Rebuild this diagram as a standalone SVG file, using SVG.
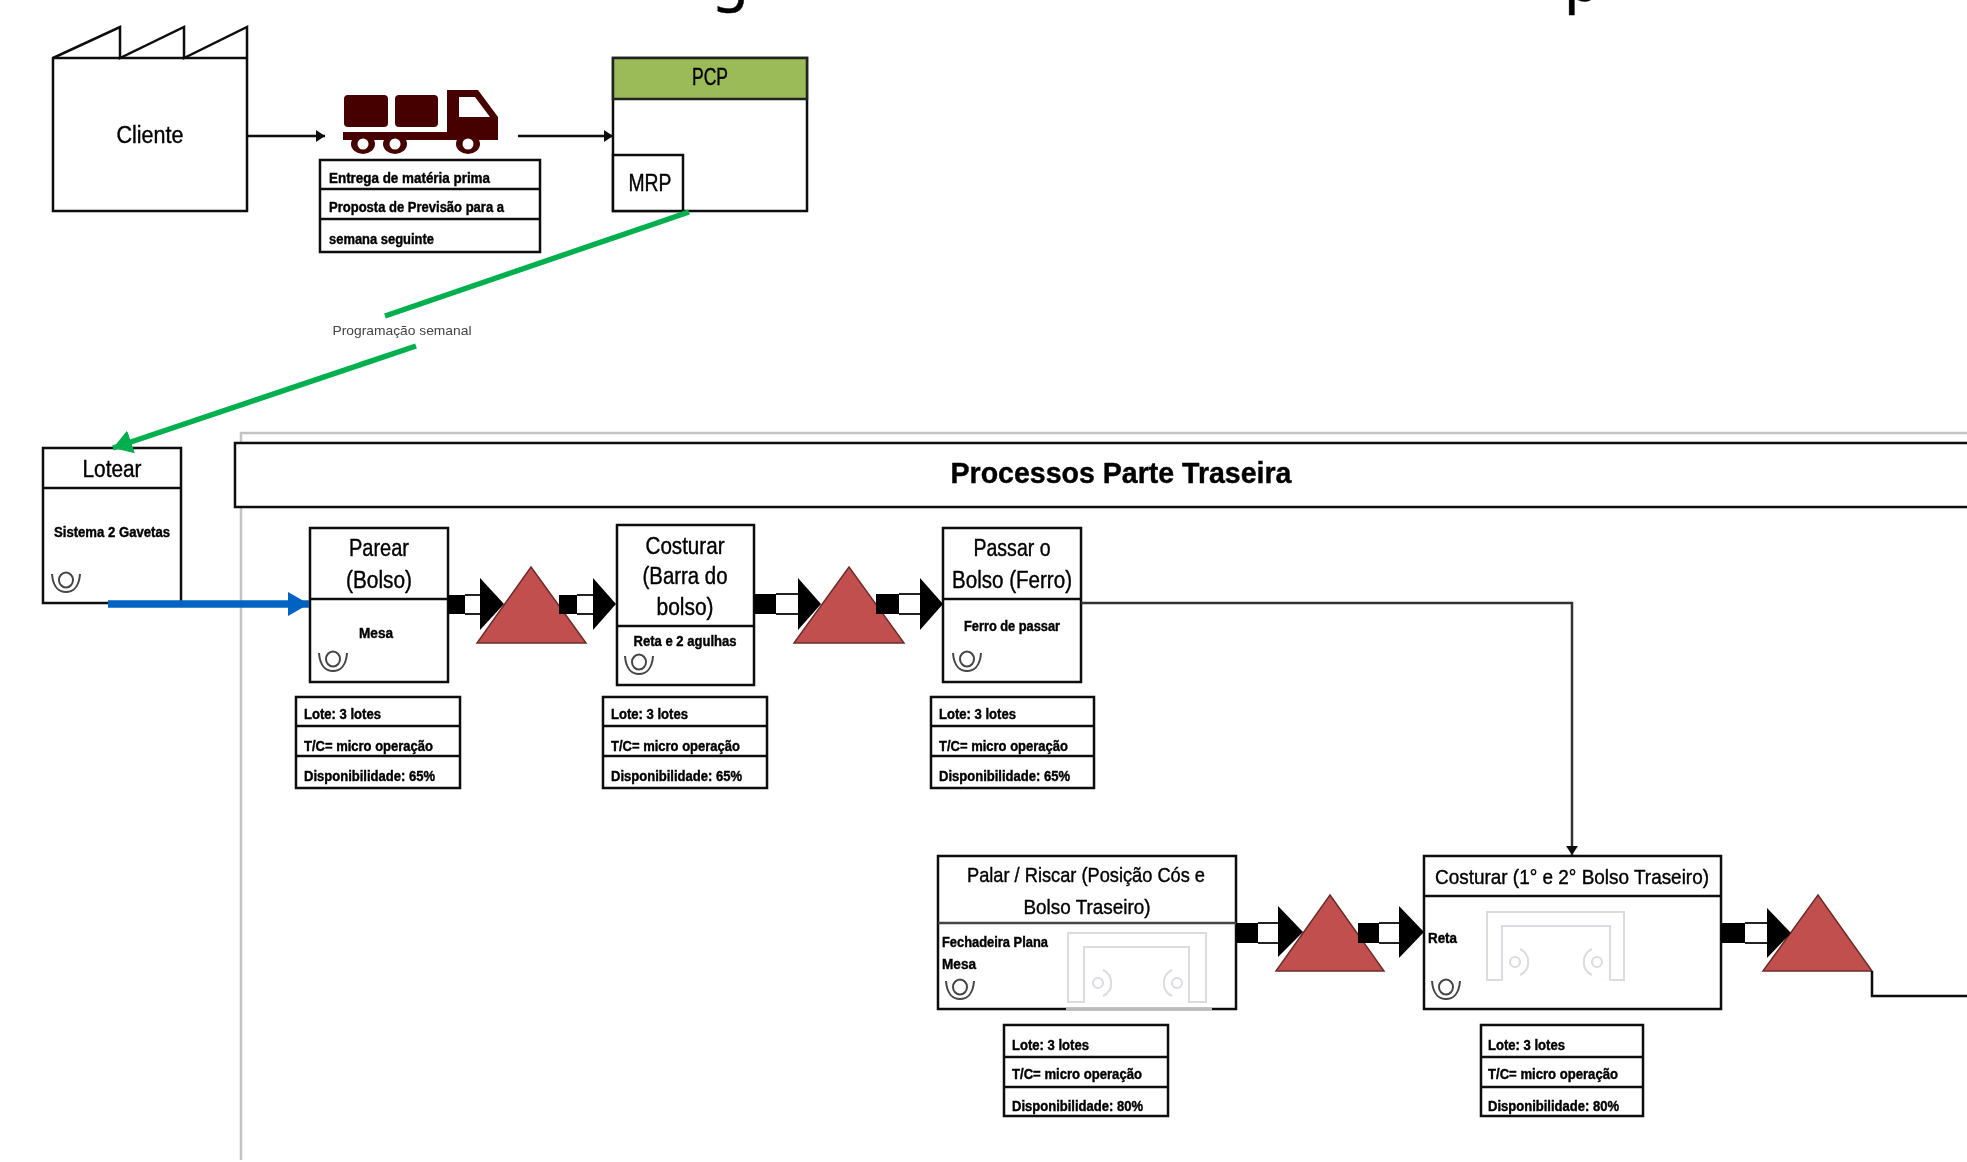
<svg xmlns="http://www.w3.org/2000/svg" width="1967" height="1162" viewBox="0 0 1967 1162">
<style>
text{font-family:"Liberation Sans",Arial,sans-serif;fill:#000;stroke:#000;stroke-width:.4}
.t{font-size:23px;text-anchor:middle}
.s{font-size:14px;font-weight:700}
.sm{font-size:14px;font-weight:700;text-anchor:middle}
.b{fill:#fff;stroke:#111;stroke-width:2.5}
.l{fill:none;stroke:#111;stroke-width:2.5}
.inv{fill:#c0504d;stroke:#6e2c2a;stroke-width:1.5}
.ink{fill:#000}
.mach{fill:none;stroke:#dcdbe3;stroke-width:2}
.op{fill:none;stroke:#444;stroke-width:2}
.c{fill:none;stroke:#111;stroke-width:2.5}
.g{fill:none;stroke:#00b050;stroke-width:5.5}
.pl{fill:none;stroke:#222;stroke-width:2.2}
</style>
<defs>
<filter id="soft" x="-2%" y="-2%" width="104%" height="104%"><feGaussianBlur stdDeviation="0.6"/></filter>
<marker id="ah" markerUnits="userSpaceOnUse" markerWidth="10" markerHeight="14" refX="9" refY="7" orient="auto"><path d="M0,1 L9,7 L0,13 Z" fill="#111"/></marker>
<marker id="ag" markerUnits="userSpaceOnUse" markerWidth="22" markerHeight="26" refX="19" refY="13" orient="auto"><path d="M0,1 L19,13 L0,25 Z" fill="#00b050"/></marker>
<marker id="ab" markerUnits="userSpaceOnUse" markerWidth="22" markerHeight="24" refX="21" refY="12" orient="auto"><path d="M0,0 L21,12 L0,24 Z" fill="#0563c1"/></marker>
<g id="oper" class="op"><ellipse cx="0" cy="-2" rx="7" ry="7.5"/><path d="M-14,-8 C-13,6 -6,10 0,10 C6,10 13,6 14,-8"/></g>
<g id="mach"><circle cx="0" cy="0" r="5" class="mach"/><path d="M5,-13 C16,-8 16,8 5,13" class="mach"/></g>
</defs>
<g filter="url(#soft)">
<g id="page-title"><text x="712" y="-1" style="font-family:'Noto Sans',sans-serif;font-size:60px">g</text><text x="1564" y="1" style="font-family:'Noto Sans',sans-serif;font-size:60px">p</text></g>
<g id="frame"><path d="M241,1160 V433 H1967" fill="none" stroke="#c4c4c4" stroke-width="2.5"/></g>
<g id="header"><rect x="235" y="443" width="1800" height="64" class="b"/><text x="1121" y="483" text-anchor="middle" textLength="341" lengthAdjust="spacingAndGlyphs" style="font-size:30px;font-weight:700">Processos Parte Traseira</text></g>
<g id="cliente"><path d="M53,58 L120,27 V58 L184,27 V58 L247,27 V58 V211 H53 Z" class="b"/><path d="M53,58 H247" class="l"/><text x="150" y="143" class="t" textLength="67" lengthAdjust="spacingAndGlyphs">Cliente</text></g>
<g id="truck" fill="#470000"><rect x="344" y="95" width="44" height="32" rx="4"/><rect x="395" y="95" width="43" height="32" rx="4"/><path d="M447,90 H478 L498,117 V133 H447 Z"/><path d="M459,97 H475 L490,117 H459 Z" fill="#fff"/><rect x="343" y="132" width="155" height="8"/><ellipse cx="363" cy="144" rx="12" ry="10"/><ellipse cx="395" cy="144" rx="12" ry="10"/><ellipse cx="468" cy="144" rx="12" ry="10"/><circle cx="363" cy="144" r="5.5" fill="#fff"/><circle cx="395" cy="144" r="5.5" fill="#fff"/><circle cx="468" cy="144" r="5.5" fill="#fff"/></g>
<g id="entrega"><rect x="320" y="160" width="220" height="92" class="b"/><path d="M320,189 H540 M320,219 H540" class="l"/><text x="329" y="183" class="s" textLength="161" lengthAdjust="spacingAndGlyphs">Entrega de matéria prima</text><text x="329" y="212" class="s" textLength="175" lengthAdjust="spacingAndGlyphs">Proposta de Previsão para a</text><text x="329" y="244" class="s" textLength="105" lengthAdjust="spacingAndGlyphs">semana seguinte</text></g>
<g id="pcp"><rect x="613" y="58" width="194" height="153" class="b"/><rect x="613" y="58" width="194" height="41" fill="#9bbb59" stroke="#222" stroke-width="2.5"/><text x="710" y="85" class="t" textLength="36" lengthAdjust="spacingAndGlyphs">PCP</text><rect x="613" y="155" width="70" height="56" class="b"/><text x="650" y="191" class="t" textLength="43" lengthAdjust="spacingAndGlyphs">MRP</text></g>
<g id="programacao"><text x="402" y="335" text-anchor="middle" textLength="139" lengthAdjust="spacingAndGlyphs" style="font-size:13px;fill:#444;stroke:none">Programação semanal</text></g>
<g id="lotear"><rect x="43" y="448" width="138" height="155" class="b"/><path d="M43,488 H181" class="l"/><text x="112" y="477" class="t" textLength="59" lengthAdjust="spacingAndGlyphs">Lotear</text><text x="112" y="537" class="sm" textLength="116" lengthAdjust="spacingAndGlyphs">Sistema 2 Gavetas</text><use href="#oper" x="66" y="582"/></g>
<g id="parear"><rect x="310" y="528" width="138" height="154" class="b"/><path d="M310,599 H448" class="l"/><text x="379" y="556" class="t" textLength="60" lengthAdjust="spacingAndGlyphs">Parear</text><text x="379" y="588" class="t" textLength="66" lengthAdjust="spacingAndGlyphs">(Bolso)</text><text x="376" y="638" class="sm" textLength="34" lengthAdjust="spacingAndGlyphs">Mesa</text><use href="#oper" x="333" y="661"/></g>
<g id="dados-parear"><rect x="296" y="697" width="164" height="91" class="b"/><path d="M296,726 H460 M296,756 H460" class="l"/><text x="304" y="719" class="s" textLength="77" lengthAdjust="spacingAndGlyphs">Lote: 3 lotes</text><text x="304" y="751" class="s" textLength="129" lengthAdjust="spacingAndGlyphs">T/C= micro operação</text><text x="304" y="781" class="s" textLength="131" lengthAdjust="spacingAndGlyphs">Disponibilidade: 65%</text></g>
<g id="costurar-barra"><rect x="617" y="525" width="137" height="160" class="b"/><path d="M617,626 H754" class="l"/><text x="685" y="554" class="t" textLength="79" lengthAdjust="spacingAndGlyphs">Costurar</text><text x="685" y="584" class="t" textLength="85" lengthAdjust="spacingAndGlyphs">(Barra do</text><text x="685" y="615" class="t" textLength="57" lengthAdjust="spacingAndGlyphs">bolso)</text><text x="685" y="646" class="sm" textLength="103" lengthAdjust="spacingAndGlyphs">Reta e 2 agulhas</text><use href="#oper" x="639" y="664"/></g>
<g id="dados-costurar-barra"><rect x="603" y="697" width="164" height="91" class="b"/><path d="M603,726 H767 M603,756 H767" class="l"/><text x="611" y="719" class="s" textLength="77" lengthAdjust="spacingAndGlyphs">Lote: 3 lotes</text><text x="611" y="751" class="s" textLength="129" lengthAdjust="spacingAndGlyphs">T/C= micro operação</text><text x="611" y="781" class="s" textLength="131" lengthAdjust="spacingAndGlyphs">Disponibilidade: 65%</text></g>
<g id="passar"><rect x="943" y="528" width="138" height="154" class="b"/><path d="M943,599 H1081" class="l"/><text x="1012" y="556" class="t" textLength="77" lengthAdjust="spacingAndGlyphs">Passar o</text><text x="1012" y="588" class="t" textLength="120" lengthAdjust="spacingAndGlyphs">Bolso (Ferro)</text><text x="1012" y="631" class="sm" textLength="96" lengthAdjust="spacingAndGlyphs">Ferro de passar</text><use href="#oper" x="967" y="661"/></g>
<g id="dados-passar"><rect x="931" y="697" width="163" height="91" class="b"/><path d="M931,726 H1094 M931,756 H1094" class="l"/><text x="939" y="719" class="s" textLength="77" lengthAdjust="spacingAndGlyphs">Lote: 3 lotes</text><text x="939" y="751" class="s" textLength="129" lengthAdjust="spacingAndGlyphs">T/C= micro operação</text><text x="939" y="781" class="s" textLength="131" lengthAdjust="spacingAndGlyphs">Disponibilidade: 65%</text></g>
<g id="palar"><rect x="938" y="856" width="298" height="153" class="b"/><path d="M938,923 H1236" stroke="#444" stroke-width="2.5"/><path d="M1068,1002 V933 H1206 V1002 H1189 V947 H1084 V1002 Z" class="mach"/><use href="#mach" x="1098" y="983"/><use href="#mach" transform="translate(1177,983) scale(-1,1)"/><path d="M1066,1009 H1212" stroke="#bbb" stroke-width="2.5"/><text x="1086" y="882" class="t" textLength="238" lengthAdjust="spacingAndGlyphs" style="font-size:21px">Palar / Riscar (Posição Cós e</text><text x="1087" y="914" class="t" textLength="127" lengthAdjust="spacingAndGlyphs" style="font-size:21px">Bolso Traseiro)</text><text x="942" y="947" class="s" textLength="106" lengthAdjust="spacingAndGlyphs">Fechadeira Plana</text><text x="942" y="969" class="s" textLength="34" lengthAdjust="spacingAndGlyphs">Mesa</text><use href="#oper" x="960" y="989"/></g>
<g id="dados-palar"><rect x="1004" y="1025" width="164" height="91" class="b"/><path d="M1004,1057 H1168 M1004,1087 H1168" class="l"/><text x="1012" y="1050" class="s" textLength="77" lengthAdjust="spacingAndGlyphs">Lote: 3 lotes</text><text x="1012" y="1079" class="s" textLength="130" lengthAdjust="spacingAndGlyphs">T/C= micro operação</text><text x="1012" y="1111" class="s" textLength="131" lengthAdjust="spacingAndGlyphs">Disponibilidade: 80%</text></g>
<g id="costurar-bolso"><rect x="1424" y="856" width="297" height="153" class="b"/><path d="M1424,896 H1721" class="l"/><path d="M1487,980 V912 H1624 V980 H1610 V926 H1502 V980 Z" class="mach"/><use href="#mach" x="1515" y="962"/><use href="#mach" transform="translate(1597,962) scale(-1,1)"/><text x="1572" y="884" class="t" textLength="274" lengthAdjust="spacingAndGlyphs" style="font-size:21px">Costurar (1° e 2° Bolso Traseiro)</text><text x="1428" y="943" class="s" textLength="29" lengthAdjust="spacingAndGlyphs">Reta</text><use href="#oper" x="1446" y="989"/></g>
<g id="dados-costurar-bolso"><rect x="1481" y="1025" width="162" height="91" class="b"/><path d="M1481,1057 H1643 M1481,1087 H1643" class="l"/><text x="1488" y="1050" class="s" textLength="77" lengthAdjust="spacingAndGlyphs">Lote: 3 lotes</text><text x="1488" y="1079" class="s" textLength="130" lengthAdjust="spacingAndGlyphs">T/C= micro operação</text><text x="1488" y="1111" class="s" textLength="131" lengthAdjust="spacingAndGlyphs">Disponibilidade: 80%</text></g>
<g id="estoque-1"><path d="M531,567 L586,643 H477 Z" class="inv"/></g>
<g id="estoque-2"><path d="M849,567 L904,643 H794 Z" class="inv"/></g>
<g id="estoque-3"><path d="M1330,895 L1384,971 H1276 Z" class="inv"/></g>
<g id="estoque-4"><path d="M1818,895 L1872,971 H1763 Z" class="inv"/></g>
<g id="connectors">
<path d="M247,136 H325" class="c" marker-end="url(#ah)"/>
<path d="M518,136 H613" class="c" marker-end="url(#ah)"/>
<path d="M689,212 L385,316" class="g"/>
<path d="M416,346 L113,448" class="g" marker-end="url(#ag)"/>
<path d="M108,604 H309" fill="none" stroke="#0563c1" stroke-width="7.5" marker-end="url(#ab)"/>
<path d="M1081,603 H1572 V855" fill="none" stroke="#333" stroke-width="2.5" marker-end="url(#ah)"/>
<path d="M1872,971 V996 H1967" class="c"/>
<g id="push-1"><rect x="448" y="595" width="17" height="19" class="ink"/><path d="M465,595 H481 M465,614 H481" class="pl"/><path d="M480,578 V630 L504,604 Z" class="ink"/></g>
<g id="push-2"><rect x="559" y="595" width="18" height="19" class="ink"/><path d="M577,595 H594 M577,614 H594" class="pl"/><path d="M593,578 V630 L616,604 Z" class="ink"/></g>
<g id="push-3"><rect x="754" y="594" width="22" height="20" class="ink"/><path d="M776,594 H799 M776,614 H799" class="pl"/><path d="M798,578 V630 L821,604 Z" class="ink"/></g>
<g id="push-4"><rect x="876" y="594" width="23" height="20" class="ink"/><path d="M899,594 H921 M899,614 H921" class="pl"/><path d="M920,578 V630 L943,604 Z" class="ink"/></g>
<g id="push-5"><rect x="1236" y="923" width="22" height="20" class="ink"/><path d="M1258,923 H1279 M1258,943 H1279" class="pl"/><path d="M1278,906 V957 L1303,932 Z" class="ink"/></g>
<g id="push-6"><rect x="1358" y="923" width="21" height="20" class="ink"/><path d="M1379,923 H1400 M1379,943 H1400" class="pl"/><path d="M1399,906 V958 L1424,932 Z" class="ink"/></g>
<g id="push-7"><rect x="1721" y="923" width="24" height="20" class="ink"/><path d="M1745,923 H1768 M1745,943 H1768" class="pl"/><path d="M1767,908 V958 L1791,933 Z" class="ink"/></g>
</g>
</g>
</svg>
